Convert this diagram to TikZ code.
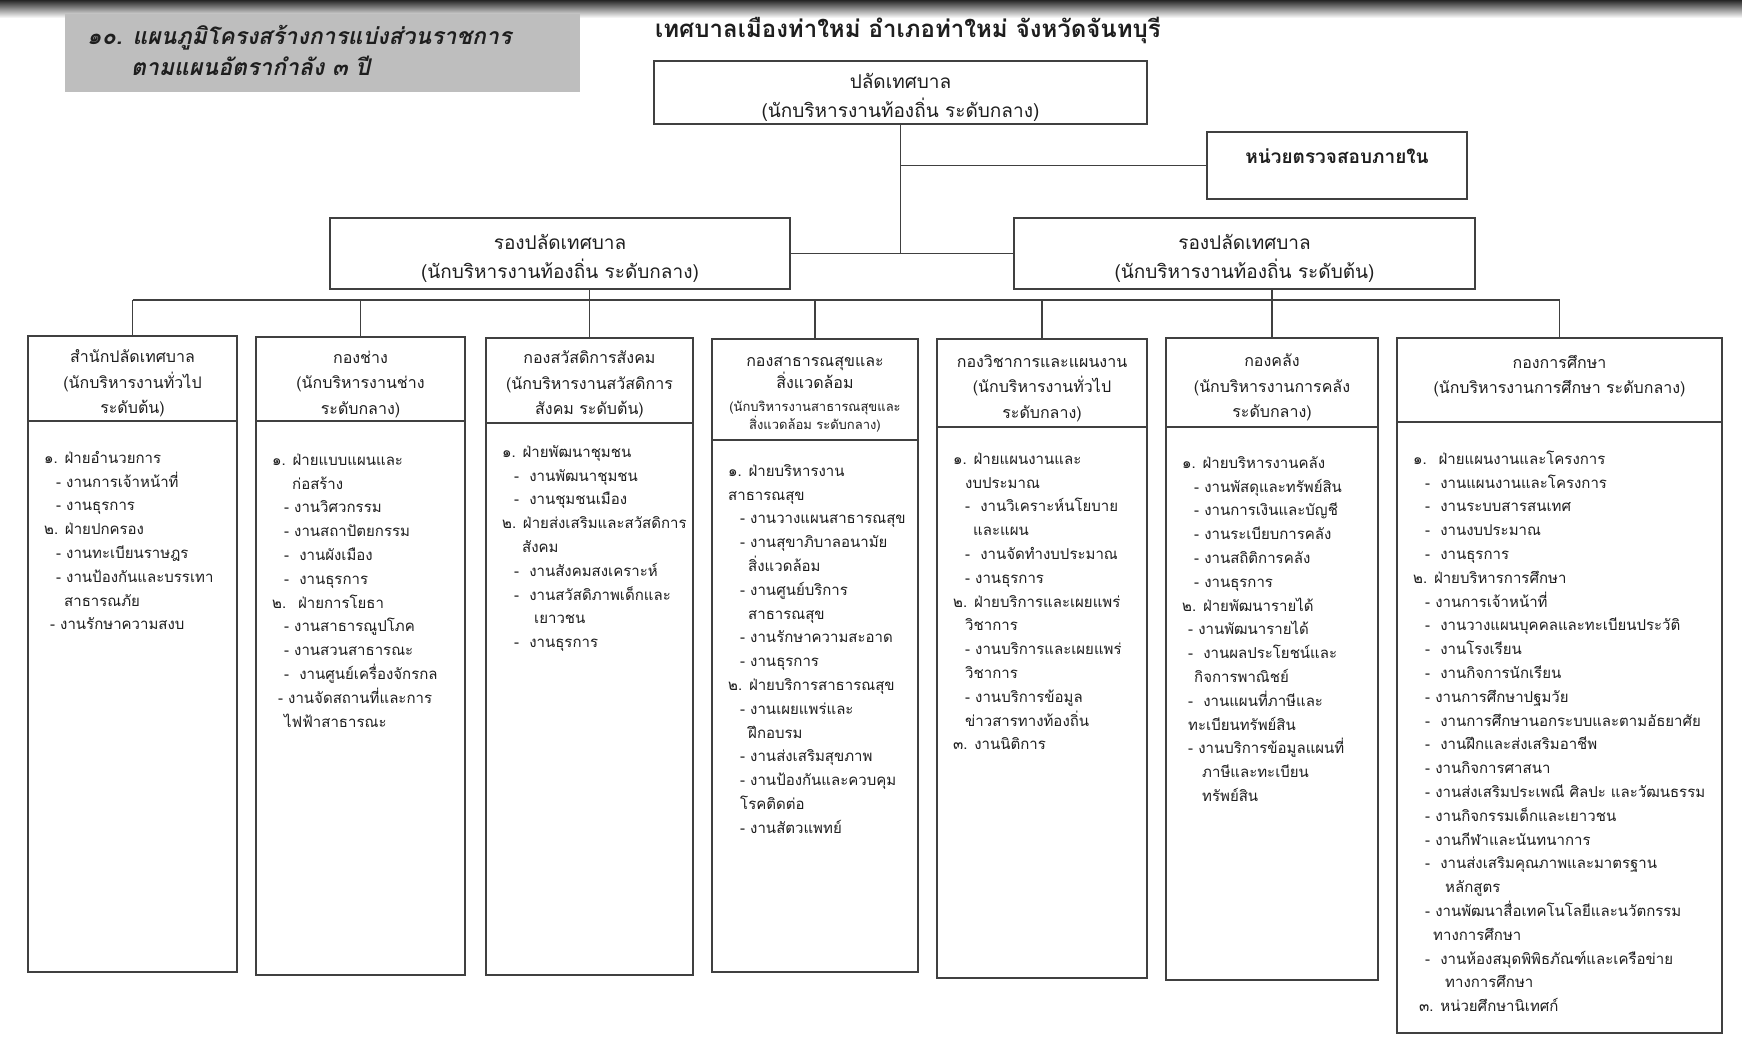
\documentclass[tikz,border=0pt]{standalone}
\usepackage{fontspec}
\usepackage{tikz}
\newfontfamily\thaifont[Script=Thai]{Loma}
\definecolor{capgray}{HTML}{BEBEBE}
\definecolor{ink}{HTML}{1E1E1E}
\newcommand{\ia}{\hspace*{12pt}}
\newcommand{\ib}{\hspace*{20pt}}
\newcommand{\ic}{\hspace*{6pt}}
\newcommand{\id}{\hspace*{32pt}}
\newcommand{\smallhd}{\fontsize{13}{18}\selectfont}

\begin{document}
\begin{tikzpicture}[x=1pt, y=-1pt, text=ink]
  \tikzstyle{box} = [draw=black!75, line width=1.6pt, rectangle, inner sep=0pt, outer sep=0pt];
  \tikzstyle{link} = [draw=black!75, line width=1.6pt];
  \tikzstyle{bigtext} = [align=center, font=\thaifont\fontsize{19}{29}\selectfont];
  \tikzstyle{headtext} = [align=center, inner sep=0pt, font=\thaifont\fontsize{16}{25.5}\selectfont];
  \tikzstyle{listtext} = [align=left, anchor=north west, inner sep=0pt, font=\thaifont\fontsize{15}{23.8}\selectfont];
  \useasboundingbox (0,0) rectangle (1742,1037);
  \fill[white] (0,0) rectangle (1742,1037);
  \shade[top color=black!85, bottom color=white] (0,0) rectangle (1742,18);
  % title block
  \node[fill=capgray, minimum width=515pt, minimum height=78pt, anchor=north west] (capbox) at (65,14) {};
  \node[anchor=base west, align=left, inner sep=0pt, font=\thaifont\bfseries\itshape\fontsize{23}{31}\selectfont] (caption) at (87,75) {๑๐. แผนภูมิโครงสร้างการแบ่งส่วนราชการ\\\hspace*{44pt}ตามแผนอัตรากำลัง ๓ ปี};
  \node[font=\thaifont\bfseries\fontsize{24}{30}\selectfont] (title) at (908,30) {เทศบาลเมืองท่าใหม่ อำเภอท่าใหม่ จังหวัดจันทบุรี};
  % top of the chart
  \node[box, minimum width=493pt, minimum height=63pt] (chief) at (900.5,92.5) {};
  \node[bigtext] (chieftext) at (900.5,97.5) {ปลัดเทศบาล\\(นักบริหารงานท้องถิ่น ระดับกลาง)};
  \node[box, minimum width=260pt, minimum height=67pt] (audit) at (1337,165.5) {};
  \node[font=\thaifont\bfseries\fontsize{19}{29}\selectfont] (audittext) at (1337,156) {หน่วยตรวจสอบภายใน};
  \node[box, minimum width=460pt, minimum height=71pt] (depA) at (560,253.5) {};
  \node[bigtext] (depAtext) at (560,258) {รองปลัดเทศบาล\\(นักบริหารงานท้องถิ่น ระดับกลาง)};
  \node[box, minimum width=461pt, minimum height=71pt] (depB) at (1244.5,253.5) {};
  \node[bigtext] (depBtext) at (1244.5,258) {รองปลัดเทศบาล\\(นักบริหารงานท้องถิ่น ระดับต้น)};
  % divisions
  \foreach \n/\xa/\xb/\yt/\yd/\yb/\hs/\yf/\hd/\bd in {
    1/28/237/336/421/972/5/458/{สำนักปลัดเทศบาล\\(นักบริหารงานทั่วไป\\ระดับต้น)}/{๑. ฝ่ายอำนวยการ\\\ia- งานการเจ้าหน้าที่\\\ia- งานธุรการ\\๒. ฝ่ายปกครอง\\\ia- งานทะเบียนราษฎร\\\ia- งานป้องกันและบรรเทา\\\ib สาธารณภัย\\\ic- งานรักษาความสงบ},
    2/256/465/337/421/975/5/460/{กองช่าง\\(นักบริหารงานช่าง\\ระดับกลาง)}/{๑. ฝ่ายแบบแผนและ\\\ib ก่อสร้าง\\\ia- งานวิศวกรรม\\\ia- งานสถาปัตยกรรม\\\ia-~ งานผังเมือง\\\ia-~ งานธุรการ\\๒.~ ฝ่ายการโยธา\\\ia- งานสาธารณูปโภค\\\ia- งานสวนสาธารณะ\\\ia-~ งานศูนย์เครื่องจักรกล\\\ic- งานจัดสถานที่และการ\\\ia ไฟฟ้าสาธารณะ},
    3/486/693/338/423/975/4/452/{กองสวัสดิการสังคม\\(นักบริหารงานสวัสดิการ\\สังคม ระดับต้น)}/{๑. ฝ่ายพัฒนาชุมชน\\\ia-~ งานพัฒนาชุมชน\\\ia-~ งานชุมชนเมือง\\๒. ฝ่ายส่งเสริมและสวัสดิการ\\\ib สังคม\\\ia-~ งานสังคมสงเคราะห์\\\ia-~ งานสวัสดิภาพเด็กและ\\\id เยาวชน\\\ia-~ งานธุรการ},
    4/712/918/339/440/972/5/471/{กองสาธารณสุขและ\\[-3pt]สิ่งแวดล้อม\\[-3pt]{\smallhd(นักบริหารงานสาธารณสุขและ}\\[-7pt]{\smallhd สิ่งแวดล้อม ระดับกลาง)}}/{๑. ฝ่ายบริหารงาน\\สาธารณสุข\\\ia- งานวางแผนสาธารณสุข\\\ia- งานสุขาภิบาลอนามัย\\\ib สิ่งแวดล้อม\\\ia- งานศูนย์บริการ\\\ib สาธารณสุข\\\ia- งานรักษาความสะอาด\\\ia- งานธุรการ\\๒. ฝ่ายบริการสาธารณสุข\\\ia- งานเผยแพร่และ\\\ib ฝึกอบรม\\\ia- งานส่งเสริมสุขภาพ\\\ia- งานป้องกันและควบคุม\\\ia โรคติดต่อ\\\ia- งานสัตวแพทย์},
    5/937/1147/339/427/978/5/459/{กองวิชาการและแผนงาน\\(นักบริหารงานทั่วไป\\ระดับกลาง)}/{๑. ฝ่ายแผนงานและ\\\ia งบประมาณ\\\ia-~ งานวิเคราะห์นโยบาย\\\ib และแผน\\\ia-~ งานจัดทำงบประมาณ\\\ia- งานธุรการ\\๒. ฝ่ายบริการและเผยแพร่\\\ia วิชาการ\\\ia- งานบริการและเผยแพร่\\\ia วิชาการ\\\ia- งานบริการข้อมูล\\\ia ข่าวสารทางท้องถิ่น\\๓. งานนิติการ},
    6/1166/1378/338/427/980/5/463/{กองคลัง\\(นักบริหารงานการคลัง\\ระดับกลาง)}/{๑. ฝ่ายบริหารงานคลัง\\\ia- งานพัสดุและทรัพย์สิน\\\ia- งานการเงินและบัญชี\\\ia- งานระเบียบการคลัง\\\ia- งานสถิติการคลัง\\\ia- งานธุรการ\\๒. ฝ่ายพัฒนารายได้\\\ic- งานพัฒนารายได้\\\ic-~ งานผลประโยชน์และ\\\ia กิจการพาณิชย์\\\ic-~ งานแผนที่ภาษีและ\\\ic ทะเบียนทรัพย์สิน\\\ic- งานบริการข้อมูลแผนที่\\\ib ภาษีและทะเบียน\\\ib ทรัพย์สิน},
    7/1397/1722/338/422/1033/-4/459/{กองการศึกษา\\(นักบริหารงานการศึกษา ระดับกลาง)}/{๑.~ ฝ่ายแผนงานและโครงการ\\\ia-~ งานแผนงานและโครงการ\\\ia-~ งานระบบสารสนเทศ\\\ia-~ งานงบประมาณ\\\ia-~ งานธุรการ\\๒. ฝ่ายบริหารการศึกษา\\\ia- งานการเจ้าหน้าที่\\\ia-~ งานวางแผนบุคคลและทะเบียนประวัติ\\\ia-~ งานโรงเรียน\\\ia-~ งานกิจการนักเรียน\\\ia- งานการศึกษาปฐมวัย\\\ia-~ งานการศึกษานอกระบบและตามอัธยาศัย\\\ia-~ งานฝึกและส่งเสริมอาชีพ\\\ia- งานกิจการศาสนา\\\ia- งานส่งเสริมประเพณี ศิลปะ และวัฒนธรรม\\\ia- งานกิจกรรมเด็กและเยาวชน\\\ia- งานกีฬาและนันทนาการ\\\ia-~ งานส่งเสริมคุณภาพและมาตรฐาน\\\id หลักสูตร\\\ia- งานพัฒนาสื่อเทคโนโลยีและนวัตกรรม\\\ib ทางการศึกษา\\\ia-~ งานห้องสมุดพิพิธภัณฑ์และเครือข่าย\\\id ทางการศึกษา\\\ic ๓. หน่วยศึกษานิเทศก์}}
  {
    \pgfmathsetmacro\w{\xb-\xa}
    \pgfmathsetmacro\hh{\yd-\yt}
    \pgfmathsetmacro\hb{\yb-\yd}
    \node[box, minimum width=\w pt, minimum height=\hh pt, anchor=north west] (h\n) at (\xa,\yt) {};
    \node[box, minimum width=\w pt, minimum height=\hb pt, anchor=north west] (b\n) at (\xa,\yd) {};
    \node[headtext] (ht\n) at ({(\xa+\xb)/2},{(\yt+\yd)/2+\hs}) {\hd};
    \node[listtext] (lt\n) at (\xa+16,\yf-11.5) {\strut\bd};
  }
  % connectors
  \coordinate (bus) at (0,300);
  \draw[link] (chief.south) -- (chief.south |- depA.east);
  \draw[link] (chief.south |- audit.west) -- (audit.west);
  \draw[link] (depA.east) -- (depB.west);
  \draw[link] (depA.south -| h3.north) -- (h3.north |- bus);
  \draw[link] (depB.south -| h6.north) -- (h6.north |- bus);
  \draw[link] (h1.north |- bus) -- (h7.north |- bus);
  \foreach \n in {1,...,7}
    {\draw[link] (h\n.north |- bus) -- (h\n.north);}
\end{tikzpicture}
\end{document}
